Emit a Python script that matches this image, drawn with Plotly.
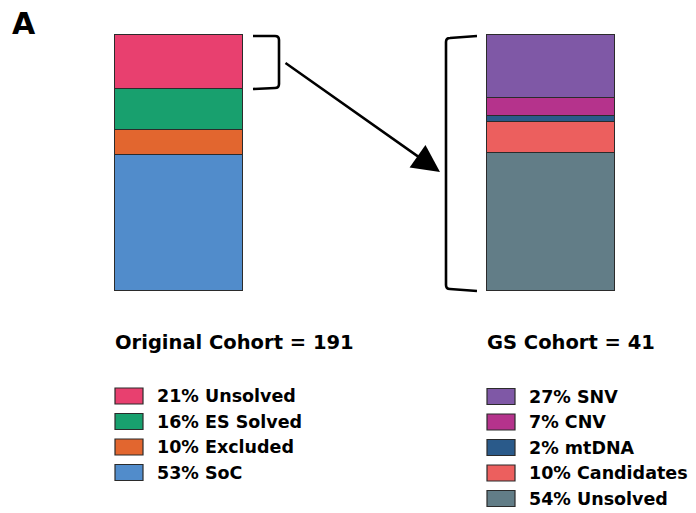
import plotly.graph_objects as go

# ---- data ----
cohorts = ["Original Cohort", "GS Cohort"]
cohort_sizes = [191, 41]

orig_labels = ["Unsolved", "ES Solved", "Excluded", "SoC"]          # top -> bottom
orig_pct = [21, 16, 10, 53]
orig_colors = ["#E8406F", "#18A06E", "#E2662F", "#518CCB"]

gs_labels = ["SNV", "CNV", "mtDNA", "Candidates", "Unsolved"]        # top -> bottom
gs_pct = [27, 7, 2, 10, 54]                                          # legend values
gs_bar = [24.5, 7, 2.5, 12, 54]                                      # heights as drawn
gs_colors = ["#7F58A6", "#B5338C", "#2A5A8A", "#EC5F5E", "#627D87"]

W, H = 696, 513
FONT = "DejaVu Sans"

# pixel <-> data mapping (plot area = whole figure)
X0_PX, DX_PX = 179, 372          # centre of first bar, spacing between bars
Y0_PX, DY_PX = 291, 2.56         # baseline pixel, pixels per percent
xr = [-X0_PX / DX_PX, (W - X0_PX) / DX_PX]
yr = [-(H - Y0_PX) / DY_PX, Y0_PX / DY_PX]

def px(xp):
    return (xp - X0_PX) / DX_PX

def py(yp):
    return (Y0_PX - yp) / DY_PX

fig = go.Figure()
bar_w = 128 / DX_PX

for labels, vals, cols, cat in [(orig_labels, orig_pct, orig_colors, cohorts[0]),
                                (gs_labels, gs_bar, gs_colors, cohorts[1])]:
    for lab, v, c in reversed(list(zip(labels, vals, cols))):
        fig.add_trace(go.Bar(x=[cat], y=[v], name=lab, width=bar_w,
                             marker=dict(color=c, line=dict(color="#2b2b2b", width=1.2)),
                             showlegend=False, hoverinfo="skip"))

shapes = []
annotations = []

# left bracket around "Unsolved" segment of original cohort
bx0, bx1 = px(253), px(279)
shapes.append(dict(type="path", xref="x", yref="y",
                   path=f"M {bx0},{py(36)} L {px(275)},{py(36)} Q {bx1},{py(36)} {bx1},{py(40)} "
                        f"L {bx1},{py(84)} Q {bx1},{py(88)} {px(275)},{py(88)} L {bx0},{py(89)}",
                   line=dict(color="black", width=2.6)))
# right bracket around full GS cohort
rx0, rx1 = px(446), px(477)
shapes.append(dict(type="path", xref="x", yref="y",
                   path=f"M {rx1},{py(36)} L {px(450)},{py(38)} Q {rx0},{py(38)} {rx0},{py(42)} "
                        f"L {rx0},{py(285)} Q {rx0},{py(289)} {px(450)},{py(289)} L {rx1},{py(291)}",
                   line=dict(color="black", width=2.6)))

# arrow
annotations.append(dict(x=px(440), y=py(172), ax=px(284), ay=py(62), xref="x", yref="y",
                        axref="x", ayref="y", showarrow=True, arrowhead=2, arrowsize=2.2,
                        arrowwidth=2.5, arrowcolor="black", text=""))

# panel letter
annotations.append(dict(x=px(10), y=py(23), xref="x", yref="y", xanchor="left", yanchor="middle",
                        text="<b>A</b>", showarrow=False,
                        font=dict(family=FONT, size=30, color="black")))

# cohort titles
for cat, n, xl in [(cohorts[0], cohort_sizes[0], 113), (cohorts[1], cohort_sizes[1], 485)]:
    annotations.append(dict(x=px(xl), y=py(342), xref="x", yref="y", xanchor="left",
                            yanchor="middle", text=f"<b>{cat} = {n}</b>", showarrow=False,
                            font=dict(family=FONT, size=19.5, color="black")))

# legends
def legend(labels, vals, cols, sx, tx, y_first):
    for i, (lab, v, c) in enumerate(zip(labels, vals, cols)):
        yc = y_first + i * 25.5
        shapes.append(dict(type="rect", xref="x", yref="y", x0=px(sx), x1=px(sx + 28),
                           y0=py(yc - 8), y1=py(yc + 8), fillcolor=c,
                           line=dict(color="#2b2b2b", width=1.2)))
        annotations.append(dict(x=px(tx), y=py(yc), xref="x", yref="y", xanchor="left",
                                yanchor="middle", text=f"<b>{v}% {lab}</b>", showarrow=False,
                                font=dict(family=FONT, size=17.5, color="black")))

legend(orig_labels, orig_pct, orig_colors, 115, 155, 396)
legend(gs_labels, gs_pct, gs_colors, 487, 527, 396.5)

fig.update_layout(width=W, height=H, barmode="stack", bargap=0,
                  margin=dict(l=0, r=0, t=0, b=0),
                  paper_bgcolor="white", plot_bgcolor="white",
                  xaxis=dict(range=xr, visible=False, type="category", fixedrange=True),
                  yaxis=dict(range=yr, visible=False, fixedrange=True),
                  shapes=shapes, annotations=annotations, showlegend=False)

fig.write_html("out.html", config={"displayModeBar": False},
               post_script="document.body.style.margin='0';document.body.style.padding='0';")
